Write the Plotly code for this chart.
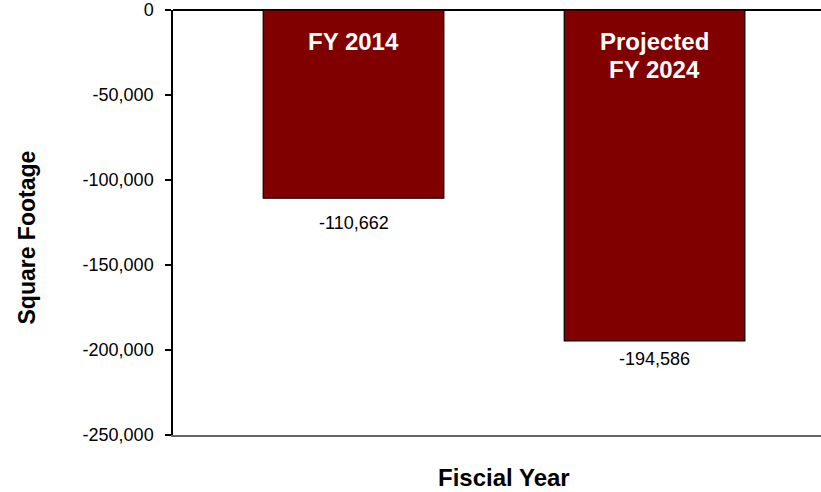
import plotly.graph_objects as go

categories = ["FY 2014", "Projected FY 2024"]
bar_titles = [["FY 2014"], ["Projected", "FY 2024"]]
values = [-110662, -194586]
value_labels = ["-110,662", "-194,586"]
tick_vals = [0, -50000, -100000, -150000, -200000, -250000]
tick_text = ["0", "-50,000", "-100,000", "-150,000", "-200,000", "-250,000"]

FONT = "Liberation Sans, Arial, sans-serif"
xpos = list(range(len(categories)))

fig = go.Figure()
fig.add_trace(go.Bar(
    x=xpos, y=values, width=0.6,
    marker=dict(color="#800000", line=dict(color="#000000", width=1.2)),
    hoverinfo="skip",
))

annotations = []
label_shift = [-25, -18]
for i, (v, lab) in enumerate(zip(values, value_labels)):
    annotations.append(dict(x=xpos[i], y=v, xref="x", yref="y", text=lab,
                            showarrow=False, yanchor="middle", yshift=label_shift[i],
                            font=dict(family=FONT, size=18, color="#000000")))
for i, lines in enumerate(bar_titles):
    for j, line in enumerate(lines):
        annotations.append(dict(x=xpos[i], y=0, xref="x", yref="y", text="<b>%s</b>" % line,
                                showarrow=False, yanchor="middle", yshift=-31.5 - 27.5 * j,
                                font=dict(family=FONT, size=24, color="#ffffff")))
annotations.append(dict(x=(504 - 173) / 648, y=-(478 - 435) / 425, xref="paper", yref="paper",
                        text="<b>Fiscial Year</b>", showarrow=False, xanchor="center", yanchor="middle",
                        font=dict(family=FONT, size=24, color="#000000")))
annotations.append(dict(x=-(173 - 26) / 648, y=1 - (237.5 - 10) / 425, xref="paper", yref="paper",
                        text="<b>Square Footage</b>", showarrow=False, textangle=-90,
                        xanchor="center", yanchor="middle",
                        font=dict(family=FONT, size=23, color="#000000")))

fig.update_layout(
    width=821, height=492,
    margin=dict(l=173, r=0, t=10, b=57),
    paper_bgcolor="#ffffff", plot_bgcolor="#ffffff",
    showlegend=False,
    annotations=annotations,
    xaxis=dict(range=[-0.5997, 1.553], showticklabels=False, ticks="",
               showgrid=False, zeroline=False, showline=True,
               linecolor="#666666", linewidth=2),
    yaxis=dict(range=[-250000, 0], tickvals=tick_vals, ticktext=tick_text,
               ticks="outside", ticklen=6, tickcolor="#000000", tickwidth=1.5,
               showgrid=False, zeroline=True, zerolinecolor="#000000", zerolinewidth=2,
               showline=True, linecolor="#000000", linewidth=1.5,
               ticklabelstandoff=8,
               tickfont=dict(family=FONT, size=18, color="#000000")),
)

fig.write_html("out.html", config={"displayModeBar": False},
               post_script="document.body.style.margin='0';document.body.style.overflow='hidden';")
